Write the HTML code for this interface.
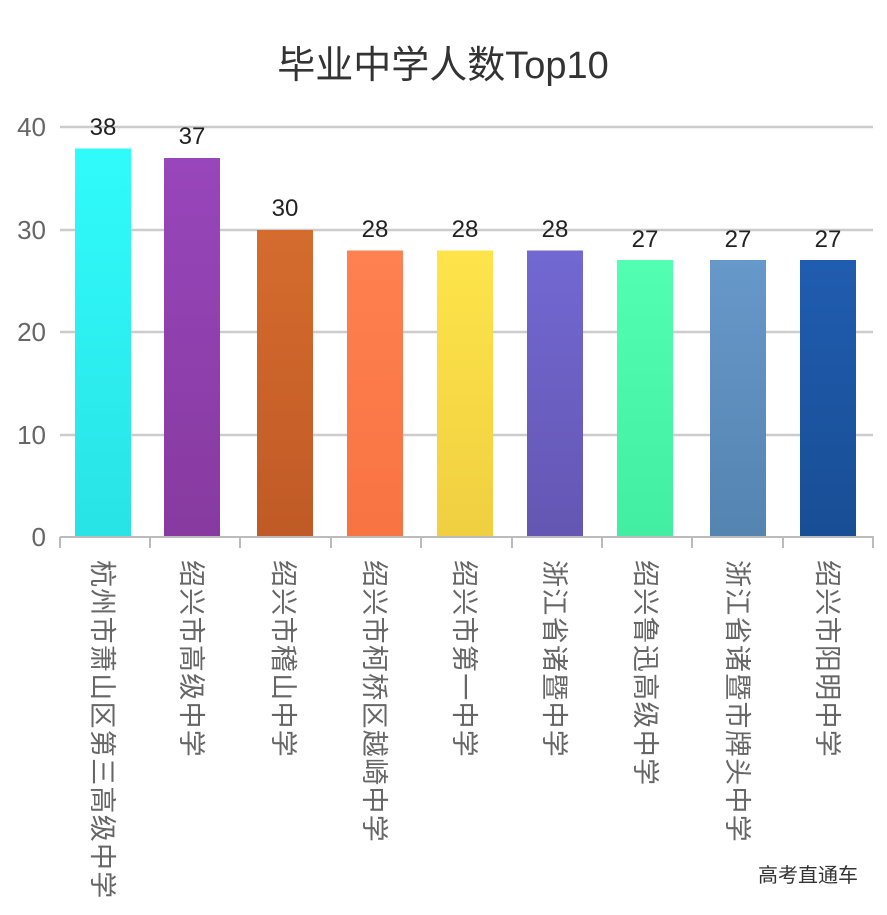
<!DOCTYPE html>
<html><head><meta charset="utf-8"><style>
html,body{margin:0;padding:0;background:#fff;}
svg{display:block;font-family:"Liberation Sans","Noto Sans CJK SC",sans-serif;}
</style></head><body>
<svg width="887" height="915" viewBox="0 0 887 915" xmlns="http://www.w3.org/2000/svg">
<defs>
<linearGradient id="g1" x1="0" y1="0" x2="0" y2="1"><stop offset="0" stop-color="#30fbfb"/><stop offset="1" stop-color="#29e3e6"/></linearGradient>
<linearGradient id="g2" x1="0" y1="0" x2="0" y2="1"><stop offset="0" stop-color="#9846bb"/><stop offset="1" stop-color="#873a9f"/></linearGradient>
<linearGradient id="g3" x1="0" y1="0" x2="0" y2="1"><stop offset="0" stop-color="#d56c2e"/><stop offset="1" stop-color="#c05a26"/></linearGradient>
<linearGradient id="g4" x1="0" y1="0" x2="0" y2="1"><stop offset="0" stop-color="#ff8050"/><stop offset="1" stop-color="#f87442"/></linearGradient>
<linearGradient id="g5" x1="0" y1="0" x2="0" y2="1"><stop offset="0" stop-color="#fee44a"/><stop offset="1" stop-color="#f0cf40"/></linearGradient>
<linearGradient id="g6" x1="0" y1="0" x2="0" y2="1"><stop offset="0" stop-color="#7268d2"/><stop offset="1" stop-color="#6456b2"/></linearGradient>
<linearGradient id="g7" x1="0" y1="0" x2="0" y2="1"><stop offset="0" stop-color="#52feb2"/><stop offset="1" stop-color="#42eea2"/></linearGradient>
<linearGradient id="g8" x1="0" y1="0" x2="0" y2="1"><stop offset="0" stop-color="#6798ca"/><stop offset="1" stop-color="#5484b0"/></linearGradient>
<linearGradient id="g9" x1="0" y1="0" x2="0" y2="1"><stop offset="0" stop-color="#205cb0"/><stop offset="1" stop-color="#184e94"/></linearGradient>
</defs>
<text x="443" y="78" font-size="38" fill="#333" text-anchor="middle">毕业中学人数Top10</text>
<g stroke="#ccc" stroke-width="2.5">
<line x1="60" y1="127" x2="873" y2="127"/>
<line x1="60" y1="230" x2="873" y2="230"/>
<line x1="60" y1="332" x2="873" y2="332"/>
<line x1="60" y1="435" x2="873" y2="435"/>
</g>
<g font-size="26" fill="#666" text-anchor="end">
<text x="46" y="136">40</text><text x="46" y="239">30</text><text x="46" y="341">20</text><text x="46" y="444">10</text><text x="46" y="546">0</text>
</g>
<rect x="75" y="148.5" width="56" height="388.5" fill="url(#g1)"/>
<rect x="164" y="158" width="56" height="379" fill="url(#g2)"/>
<rect x="257" y="230" width="56" height="307" fill="url(#g3)"/>
<rect x="347" y="250.5" width="56" height="286.5" fill="url(#g4)"/>
<rect x="437" y="250.5" width="56" height="286.5" fill="url(#g5)"/>
<rect x="527" y="250.5" width="56" height="286.5" fill="url(#g6)"/>
<rect x="617" y="260" width="56" height="277" fill="url(#g7)"/>
<rect x="710" y="260" width="56" height="277" fill="url(#g8)"/>
<rect x="800" y="260" width="56" height="277" fill="url(#g9)"/>
<g font-size="24" fill="#222" text-anchor="middle">
<text x="103" y="135">38</text><text x="192" y="144">37</text><text x="285" y="216">30</text><text x="375" y="237">28</text><text x="465" y="237">28</text><text x="555" y="237">28</text><text x="645" y="247">27</text><text x="738" y="247">27</text><text x="828" y="247">27</text>
</g>
<g stroke="#bbb" stroke-width="2">
<line x1="60" y1="537" x2="874" y2="537"/>
<line x1="60" y1="537" x2="60" y2="548"/><line x1="150" y1="537" x2="150" y2="548"/><line x1="240" y1="537" x2="240" y2="548"/><line x1="331" y1="537" x2="331" y2="548"/><line x1="421" y1="537" x2="421" y2="548"/><line x1="512" y1="537" x2="512" y2="548"/><line x1="602" y1="537" x2="602" y2="548"/><line x1="692" y1="537" x2="692" y2="548"/><line x1="783" y1="537" x2="783" y2="548"/><line x1="873" y1="537" x2="873" y2="548"/>
</g>
<g font-size="27" fill="#666" dominant-baseline="central" letter-spacing="1.3">
<text transform="translate(102,560) rotate(90)">杭州市萧山区第三高级中学</text>
<text transform="translate(191,560) rotate(90)">绍兴市高级中学</text>
<text transform="translate(283,560) rotate(90)">绍兴市稽山中学</text>
<text transform="translate(374,560) rotate(90)">绍兴市柯桥区越崎中学</text>
<text transform="translate(464,560) rotate(90)">绍兴市第一中学</text>
<text transform="translate(554,560) rotate(90)">浙江省诸暨中学</text>
<text transform="translate(645,560) rotate(90)">绍兴鲁迅高级中学</text>
<text transform="translate(737,560) rotate(90)">浙江省诸暨市牌头中学</text>
<text transform="translate(827,560) rotate(90)">绍兴市阳明中学</text>
</g>
<text x="858" y="882" font-size="20" fill="#333" text-anchor="end">高考直通车</text>
</svg>
</body></html>
